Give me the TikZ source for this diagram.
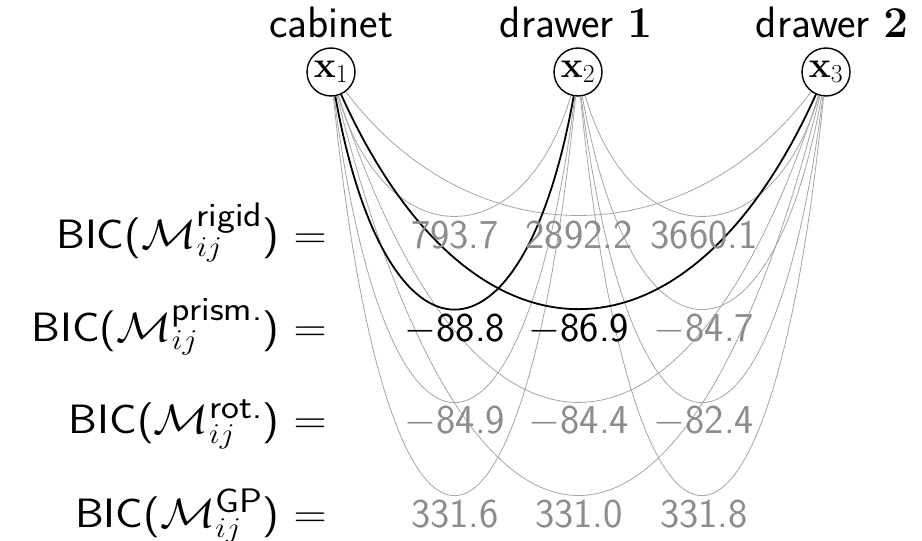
\RequirePackage{fix-cm}
\documentclass[tikz,border=0pt]{standalone}
\usepackage{amsmath}
\usepackage{graphicx}
\definecolor{valgray}{RGB}{140,140,140}
\definecolor{linkgray}{RGB}{165,165,165}
\newcommand{\supsf}[1]{\text{\fontsize{34}{40}\selectfont\sffamily #1}}
\newcommand{\eqwide}[1]{\scalebox{1.12}[1]{#1}}
\begin{document}
\begin{tikzpicture}[x=1pt,y=-1pt,
  var/.style={circle, draw, line width=1.4pt, minimum size=48pt, inner sep=0pt, font=\fontsize{37}{42}\selectfont},
  toplabel/.style={anchor=base, font=\fontsize{44}{52}\selectfont\sffamily},
  eqlabel/.style={anchor=base east, inner sep=0pt, font=\fontsize{41}{50}\selectfont\sffamily},
  val/.style={anchor=base, inner sep=0pt, font=\fontsize{41}{50}\selectfont\sffamily, text=valgray},
  bestval/.style={val, text=black},
  link/.style={draw=linkgray, line width=0.8pt},
  best/.style={draw=black, line width=1.8pt}]
\useasboundingbox (0,0) rectangle (922,541);
% variables
\node[var] (x1) at (331,72) {$\mathbf{x}_1$};
\node[var] (x2) at (578,72) {$\mathbf{x}_2$};
\node[var] (x3) at (826,72) {$\mathbf{x}_3$};
\node[toplabel] (l1) at (331,37) {cabinet};
\node[toplabel] (l2) at (576,37) {drawer $\mathbf{1}$};
\node[toplabel] (l3) at (832,37) {drawer $\mathbf{2}$};
% gray links
\draw[link] (x1) .. controls (386,256.7) and (523,256.7) .. (x2);
\draw[link] (x1) .. controls (470,256.7) and (687,256.7) .. (x3);
\draw[link] (x2) .. controls (633,256.7) and (771,256.7) .. (x3);
\draw[link] (x2) .. controls (633,380.7) and (771,380.7) .. (x3);
\draw[link] (x1) .. controls (386,504.7) and (523,504.7) .. (x2);
\draw[link] (x1) .. controls (470,504.7) and (687,504.7) .. (x3);
\draw[link] (x2) .. controls (633,504.7) and (771,504.7) .. (x3);
\draw[link] (x1) .. controls (386,628.7) and (523,628.7) .. (x2);
\draw[link] (x1) .. controls (470,628.7) and (687,628.7) .. (x3);
\draw[link] (x2) .. controls (633,628.7) and (771,628.7) .. (x3);
% best links
\draw[best] (x1) .. controls (386,380.7) and (523,380.7) .. (x2);
\draw[best] (x1) .. controls (470,380.7) and (687,380.7) .. (x3);
% equation labels
\node[eqlabel] (e1) at (327,248) {\eqwide{BIC($\mathcal{M}^{\supsf{rigid}}_{ij}$) $=$}};
\node[eqlabel] (e2) at (327,341) {\eqwide{BIC($\mathcal{M}^{\supsf{prism.}}_{ij}$) $=$}};
\node[eqlabel] (e3) at (327,433) {\eqwide{BIC($\mathcal{M}^{\supsf{rot.}}_{ij}$) $=$}};
\node[eqlabel] (e4) at (327,527) {\eqwide{BIC($\mathcal{M}^{\supsf{GP}}_{ij}$) $=$}};
% values
\node[val] (r12) at (455,248) {793.7};
\node[val] (r13) at (579,248) {2892.2};
\node[val] (r23) at (704,248) {3660.1};
\node[bestval] (p12) at (455,341) {$-$88.8};
\node[bestval] (p13) at (579,341) {$-$86.9};
\node[val] (p23) at (704,341) {$-$84.7};
\node[val] (o12) at (455,433) {$-$84.9};
\node[val] (o13) at (579,433) {$-$84.4};
\node[val] (o23) at (704,433) {$-$82.4};
\node[val] (g12) at (455,527) {331.6};
\node[val] (g13) at (579,527) {331.0};
\node[val] (g23) at (704,527) {331.8};
\end{tikzpicture}
\end{document}
